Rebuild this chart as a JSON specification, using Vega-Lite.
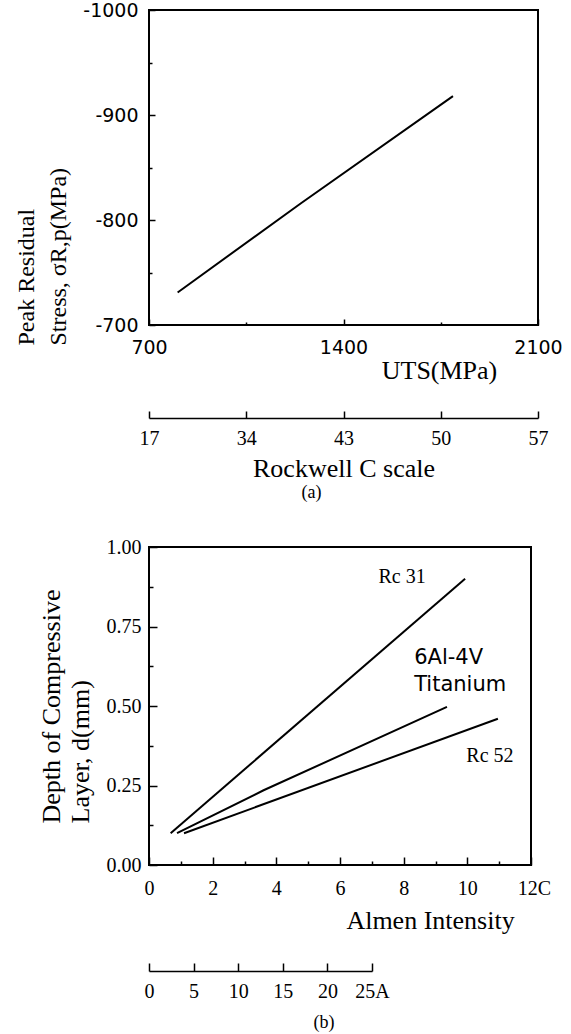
{
  "$schema": "https://vega.github.io/schema/vega-lite/v6.json",
  "padding": {"left": 13, "top": 0, "right": 0, "bottom": 0},
  "background": "white",
  "spacing": 33,
  "config": {
    "view": {"stroke": "black", "strokeWidth": 2},
    "axis": {
      "domain": false, "grid": false, "tickColor": "black", "tickWidth": 1.5,
      "labelColor": "black", "titleColor": "black", "domainColor": "black", "domainWidth": 1.5,
      "labelFlush": false, "labelOverlap": false, "labelFontWeight": "normal", "titleFontWeight": "normal"
    },
    "title": {"fontWeight": "normal", "color": "black"}
  },
  "vconcat": [
    {
      "width": 389,
      "height": 315,
      "title": {"text": "(a)", "orient": "bottom", "font": "Liberation Serif", "fontSize": 18, "dx": -32, "offset": 3},
      "data": {"values": [
        {"uts": 803, "stress": -731},
        {"uts": 1247, "stress": -816},
        {"uts": 1794, "stress": -918}
      ]},
      "resolve": {"axis": {"x": "independent"}},
      "layer": [
        {
          "mark": {"type": "line", "color": "black", "strokeWidth": 2},
          "encoding": {
            "x": {
              "field": "uts", "type": "quantitative",
              "scale": {"domain": [700, 2100], "nice": false, "zero": false},
              "axis": {
                "orient": "bottom",
                "values": [700, 1050, 1400, 1750, 2100],
                "labelExpr": "datum.value == 1050 || datum.value == 1750 ? '' : format(datum.value, 'd')",
                "tickSize": {"condition": {"test": "datum.value == 1050 || datum.value == 1750", "value": -3}, "value": -6},
                "labelPadding": 19,
                "labelFont": "DejaVu Sans", "labelFontSize": 19,
                "title": "UTS(MPa)", "titleFont": "Liberation Serif", "titleFontSize": 26,
                "titleX": 290, "titleY": 45, "titleAlign": "center", "titleBaseline": "middle"
              }
            },
            "y": {
              "field": "stress", "type": "quantitative",
              "scale": {"domain": [-1000, -700], "reverse": true, "nice": false, "zero": false},
              "axis": {
                "values": [-1000, -950, -900, -850, -800, -750, -700],
                "labelExpr": "datum.value % 100 == 0 ? '-' + (-datum.value) : ''",
                "tickSize": {"condition": {"test": "datum.value % 100 != 0", "value": -3}, "value": -6},
                "labelPadding": 17,
                "labelFont": "DejaVu Sans", "labelFontSize": 19,
                "title": ["Peak Residual", "Stress, σR,p(MPa)"],
                "titleFont": "Liberation Serif", "titleFontSize": 24,
                "titleAngle": -90, "titleAlign": "left", "titleBaseline": "top",
                "titleX": -135, "titleY": 335, "titleLineHeight": 32
              }
            }
          }
        },
        {
          "mark": {"type": "point", "opacity": 0},
          "encoding": {
            "x": {
              "field": "uts", "type": "quantitative",
              "scale": {"domain": [700, 2100], "nice": false, "zero": false},
              "axis": {
                "orient": "bottom", "offset": 93, "domain": true,
                "values": [700, 1050, 1400, 1750, 2100],
                "labelExpr": "datum.value == 700 ? '17' : datum.value == 1050 ? '34' : datum.value == 1400 ? '43' : datum.value == 1750 ? '50' : '57'",
                "tickSize": -7,
                "labelPadding": 17,
                "labelFont": "Liberation Serif", "labelFontSize": 20,
                "title": "Rockwell C scale", "titleFont": "Liberation Serif", "titleFontSize": 26,
                "titleX": 194.5, "titleY": 50, "titleAlign": "center", "titleBaseline": "middle"
              }
            }
          }
        }
      ]
    },
    {
      "width": 382,
      "height": 318,
      "title": {"text": "(b)", "orient": "bottom", "font": "Liberation Serif", "fontSize": 18, "dx": -16, "offset": 13},
      "resolve": {"scale": {"x": "independent"}, "axis": {"y": "independent"}},
      "layer": [
        {
          "data": {"values": [
            {"series": "Rc 31", "almen": 0.68, "depth": 0.10},
            {"series": "Rc 31", "almen": 9.93, "depth": 0.90},
            {"series": "6Al-4V Titanium", "almen": 0.88, "depth": 0.10},
            {"series": "6Al-4V Titanium", "almen": 3.6, "depth": 0.235},
            {"series": "6Al-4V Titanium", "almen": 9.36, "depth": 0.497},
            {"series": "Rc 52", "almen": 1.1, "depth": 0.10},
            {"series": "Rc 52", "almen": 10.96, "depth": 0.46}
          ]},
          "mark": {"type": "line", "color": "black", "strokeWidth": 2},
          "encoding": {
            "detail": {"field": "series"},
            "x": {
              "field": "almen", "type": "quantitative",
              "scale": {"domain": [0, 12], "nice": false, "zero": false},
              "axis": {
                "orient": "bottom",
                "values": [0, 1, 2, 3, 4, 5, 6, 7, 8, 9, 10, 11, 12],
                "labelExpr": "datum.value % 2 == 1 ? '' : datum.value == 12 ? '12C' : '' + datum.value",
                "tickSize": {"condition": {"test": "datum.value % 2 == 1", "value": -4}, "value": -8},
                "labelOffset": {"condition": {"test": "datum.value == 12", "value": 3}, "value": 0},
                "labelPadding": 21,
                "labelFont": "Liberation Serif", "labelFontSize": 20,
                "title": "Almen Intensity", "titleFont": "Liberation Serif", "titleFontSize": 26,
                "titleX": 281, "titleY": 55, "titleAlign": "center", "titleBaseline": "middle"
              }
            },
            "y": {
              "field": "depth", "type": "quantitative",
              "scale": {"domain": [0, 1], "nice": false, "zero": false},
              "axis": {
                "values": [0, 0.125, 0.25, 0.375, 0.5, 0.625, 0.75, 0.875, 1],
                "labelExpr": "(datum.value * 4) % 1 == 0 ? format(datum.value, '.2f') : ''",
                "tickSize": {"condition": {"test": "(datum.value * 4) % 1 != 0", "value": -4}, "value": -8},
                "labelPadding": 16,
                "labelFont": "Liberation Serif", "labelFontSize": 20,
                "title": ["Depth of Compressive", "Layer, d(mm)"],
                "titleFont": "Liberation Serif", "titleFontSize": 26,
                "titleAngle": -90, "titleAlign": "left", "titleBaseline": "top",
                "titleX": -111, "titleY": 276, "titleLineHeight": 29
              }
            }
          }
        },
        {
          "data": {"values": [
            {"almen": 7.95, "depth": 0.906, "label": "Rc 31"},
            {"almen": 10.71, "depth": 0.343, "label": "Rc 52"}
          ]},
          "mark": {"type": "text", "font": "Liberation Serif", "fontSize": 20, "color": "black", "align": "center", "baseline": "middle"},
          "encoding": {
            "x": {"field": "almen", "type": "quantitative", "scale": {"domain": [0, 12], "nice": false, "zero": false}, "axis": null},
            "y": {"field": "depth", "type": "quantitative", "scale": {"domain": [0, 1], "nice": false, "zero": false}, "axis": null},
            "text": {"field": "label"}
          }
        },
        {
          "data": {"values": [
            {"almen": 8.33, "depth": 0.651, "label": "6Al-4V"},
            {"almen": 8.33, "depth": 0.566, "label": "Titanium"}
          ]},
          "mark": {"type": "text", "font": "DejaVu Sans", "fontSize": 21, "color": "black", "align": "left", "baseline": "middle"},
          "encoding": {
            "x": {"field": "almen", "type": "quantitative", "scale": {"domain": [0, 12], "nice": false, "zero": false}, "axis": null},
            "y": {"field": "depth", "type": "quantitative", "scale": {"domain": [0, 1], "nice": false, "zero": false}, "axis": null},
            "text": {"field": "label"}
          }
        },
        {
          "data": {"values": [{"a": 0}, {"a": 25}]},
          "mark": {"type": "point", "opacity": 0},
          "encoding": {
            "x": {
              "field": "a", "type": "quantitative",
              "scale": {"domain": [0, 25], "range": [0, 223], "nice": false, "zero": false},
              "axis": {
                "orient": "bottom", "offset": 106, "domain": true,
                "values": [0, 5, 10, 15, 20, 25],
                "labelExpr": "datum.value == 25 ? '25A' : '' + datum.value",
                "tickSize": -8,
                "labelPadding": 18,
                "labelFont": "Liberation Serif", "labelFontSize": 20,
                "title": null
              }
            }
          }
        }
      ]
    }
  ]
}
